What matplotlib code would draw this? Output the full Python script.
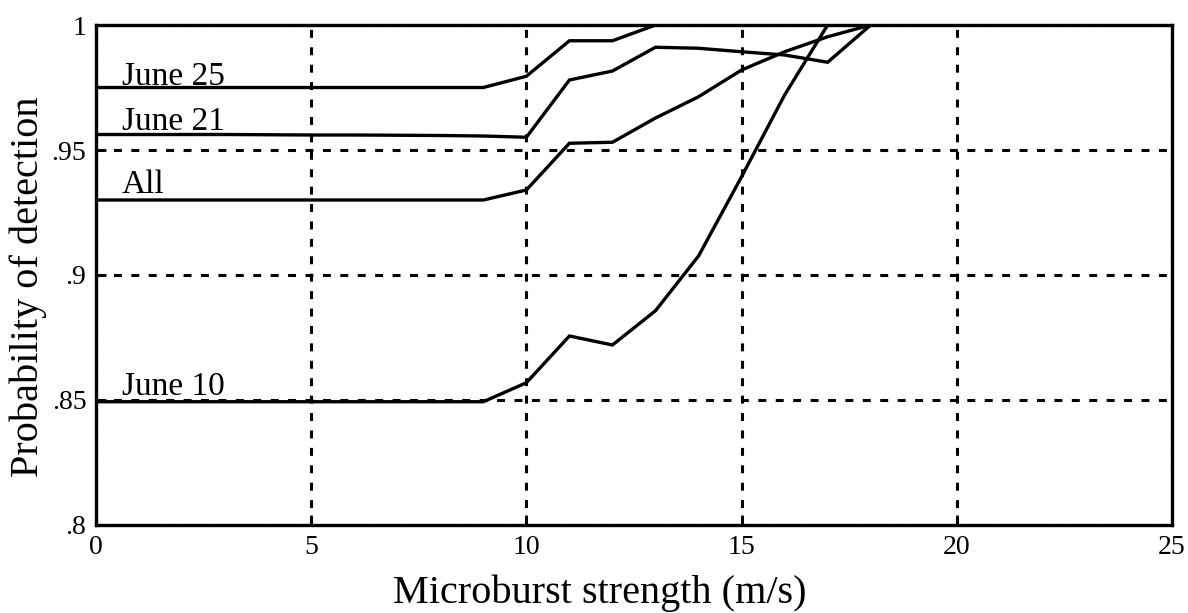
import matplotlib
matplotlib.use("Agg")
import matplotlib.pyplot as plt

strength = [0, 1, 2, 3, 4, 5, 6, 7, 8, 9, 10, 11, 12, 13, 14, 15, 16, 17, 18, 19, 20, 21, 22, 23, 24, 25]

june25 = [0.975, 0.975, 0.975, 0.975, 0.975, 0.975, 0.975, 0.975, 0.975, 0.975,
          0.9795, 0.9937, 0.9937, 1.0, 1.0, 1.0, 1.0, 1.0, 1.0, 1.0, 1.0, 1.0, 1.0, 1.0, 1.0, 1.0]
june21 = [0.9562, 0.9562, 0.9562, 0.9562, 0.9561, 0.956, 0.956, 0.9559, 0.9558, 0.9556,
          0.9551, 0.978, 0.9816, 0.9911, 0.9907, 0.9893, 0.988, 0.9851, 1.0, 1.0, 1.0, 1.0, 1.0, 1.0, 1.0, 1.0]
all_days = [0.93, 0.93, 0.93, 0.93, 0.93, 0.93, 0.93, 0.93, 0.93, 0.93,
            0.934, 0.9527, 0.9531, 0.9628, 0.9713, 0.982, 0.9893, 0.9953, 1.0, 1.0, 1.0, 1.0, 1.0, 1.0, 1.0, 1.0]
june10 = [0.8493, 0.8493, 0.8493, 0.8493, 0.8493, 0.8493, 0.8493, 0.8493, 0.8493, 0.8493,
          0.8569, 0.8756, 0.872, 0.8857, 0.9076, 0.9393, 0.972, 1.0, 1.0, 1.0, 1.0, 1.0, 1.0, 1.0, 1.0, 1.0]

series_labels = ["June 25", "June 21", "All", "June 10"]
label_y = [0.976, 0.958, 0.9328, 0.852]

x_ticks = [0, 5, 10, 15, 20, 25]
x_ticklabels = ["0", "5", "10", "15", "20", "25"]
y_ticks = [0.8, 0.85, 0.9, 0.95, 1.0]
y_ticklabels = [".8", ".85", ".9", ".95", "1"]

plt.rcParams['font.family'] = ['Liberation Serif', 'DejaVu Serif']

fig = plt.figure(figsize=(11.88, 6.13), dpi=100)
ax = fig.add_axes([0.0808, 0.1436, 0.9057, 0.8156])

for ys in [june25, june21, all_days, june10]:
    ax.plot(strength, ys, color='black', linewidth=2.4, solid_joinstyle='miter', zorder=3)

for name, ly in zip(series_labels, label_y):
    ax.text(0.6, ly, name, fontsize=24, va='baseline', ha='left', color='black')

ax.set_xlim(0, 25)
ax.set_ylim(0.8, 1.0)
ax.set_xticks(x_ticks)
ax.set_xticklabels(x_ticklabels)
ax.set_yticks(y_ticks)
ax.set_yticklabels(y_ticklabels)
ax.tick_params(direction='in', length=7, width=2.0, labelsize=20)
ax.tick_params(axis='x', pad=7)
ax.tick_params(axis='y', pad=7)

ax.grid(True, color='black', linestyle=(0, (2.6, 3.1)), linewidth=2.2)
ax.set_axisbelow(True)
for s in ax.spines.values():
    s.set_linewidth(2.4)
    s.set_zorder(4)

fig.text(0.505, 0.0165, "Microburst strength (m/s)", fontsize=29, ha='center', va='baseline')
fig.text(0.0236, 0.532, "Probability of detection", fontsize=29, ha='center', va='center',
         rotation=90)

fig.savefig("out.png", dpi=100)
